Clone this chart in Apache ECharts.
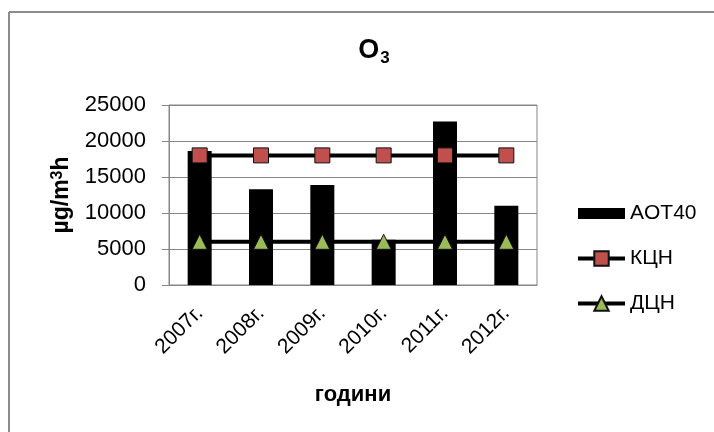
<!DOCTYPE html>
<html><head><meta charset="utf-8">
<script src="https://cdn.jsdelivr.net/npm/echarts@6/dist/echarts.min.js"></script>
<style>html,body{margin:0;padding:0;background:#fff}#c{width:714px;height:432px}</style>
</head><body><div id="c"></div>
<script>
const categories = ['2007г.', '2008г.', '2009г.', '2010г.', '2011г.', '2012г.'];
const aot40 = [18600, 13300, 13900, 6300, 22700, 11000];
const kcn = [18000, 18000, 18000, 18000, 18000, 18000];
const dcn = [6000, 6000, 6000, 6000, 6000, 6000];
const yTicks = { min: 0, max: 25000, interval: 5000 };
const FONT = 'Liberation Sans';

const chart = echarts.init(document.getElementById('c'), null, { renderer: 'canvas' });
chart.setOption({
  animation: false,
  backgroundColor: '#fff',
  title: {
    text: '{o|O}{s|3}',
    left: 374, top: 34, textAlign: 'center', padding: 0,
    textStyle: {
      fontFamily: FONT, fontWeight: 'bold', fontSize: 27, color: '#000',
      rich: {
        o: { fontFamily: FONT, fontWeight: 'bold', fontSize: 27, color: '#000' },
        s: { fontFamily: FONT, fontWeight: 'bold', fontSize: 17, color: '#000', verticalAlign: 'bottom', padding: [16, 0, 0, 1] }
      }
    }
  },
  graphic: [
    { type: 'line', shape: { x1: 9, y1: 12, x2: 714, y2: 12 }, style: { stroke: '#8c8c8c', lineWidth: 2 } },
    { type: 'line', shape: { x1: 9, y1: 12, x2: 9, y2: 432 }, style: { stroke: '#8c8c8c', lineWidth: 2 } }
  ],
  grid: { left: 169, right: 177, top: 105, bottom: 147, show: true, borderColor: '#868686', borderWidth: 1 },
  legend: {
    orient: 'vertical', left: 576, top: 203, itemGap: 24, padding: 0,
    itemWidth: 47, itemHeight: 18,
    lineStyle: { width: 4 },
    textStyle: { fontFamily: FONT, fontSize: 21, color: '#000' },
    data: [
      { name: 'AOT40', icon: 'path://M0,0H47V11H0Z' },
      { name: 'КЦН' },
      { name: 'ДЦН' }
    ]
  },
  xAxis: {
    type: 'category', data: categories,
    name: 'години', nameLocation: 'middle', nameGap: 99,
    nameTextStyle: { fontFamily: FONT, fontWeight: 'bold', fontSize: 22, color: '#000' },
    axisLine: { lineStyle: { color: '#868686', width: 1 } },
    axisTick: { show: false },
    axisLabel: { rotate: 45, fontFamily: FONT, fontSize: 21, color: '#000', margin: 25 }
  },
  yAxis: {
    type: 'value', min: yTicks.min, max: yTicks.max, interval: yTicks.interval,
    name: '{t|µg/m}{s|3}{t|h}', nameLocation: 'middle', nameGap: 95, nameRotate: 90,
    nameTextStyle: {
      rich: {
        t: { fontFamily: FONT, fontWeight: 'bold', fontSize: 23, color: '#000' },
        s: { fontFamily: FONT, fontWeight: 'bold', fontSize: 16, color: '#000', verticalAlign: 'top', padding: [0, 0, 8, 0] }
      }
    },
    axisLine: { show: true, lineStyle: { color: '#868686', width: 1 } },
    axisTick: { show: true, length: 7, lineStyle: { color: '#868686' } },
    splitLine: { lineStyle: { color: '#868686', width: 1 } },
    axisLabel: { fontFamily: FONT, fontSize: 22, color: '#000', margin: 23, formatter: v => String(v) }
  },
  series: [
    { name: 'AOT40', type: 'bar', data: aot40, barWidth: 24, itemStyle: { color: '#000' } },
    { name: 'КЦН', type: 'line', data: kcn, symbol: 'rect', symbolSize: 15,
      lineStyle: { color: '#000', width: 4 },
      itemStyle: { color: '#c0504d', borderColor: '#111', borderWidth: 1 } },
    { name: 'ДЦН', type: 'line', data: dcn, symbol: 'triangle', symbolSize: 15,
      lineStyle: { color: '#000', width: 4 },
      itemStyle: { color: '#9bbb59', borderColor: '#111', borderWidth: 1 } }
  ]
});
</script></body></html>
